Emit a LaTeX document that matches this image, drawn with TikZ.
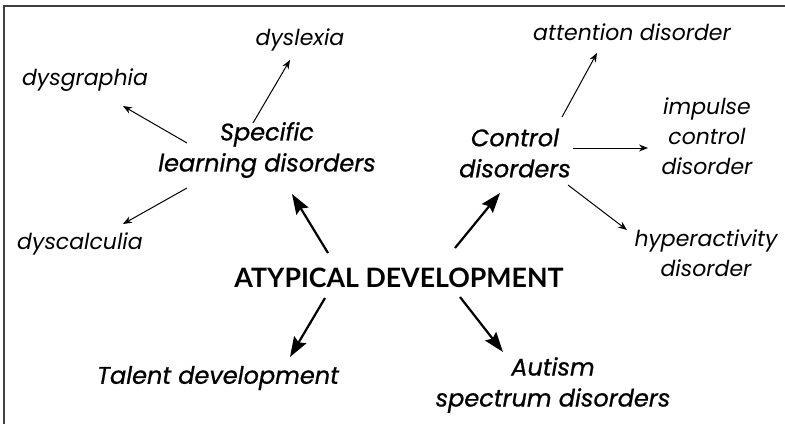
\documentclass[tikz,border=0pt]{standalone}
\usepackage{fontspec}
\usetikzlibrary{arrows.meta}
\newfontfamily\hand{Poppins}
\newfontfamily\handb{Poppins}[FakeBold=0.8]
\newfontfamily\lato{Lato}
\tikzset{
  leaf/.style={font=\hand\itshape\fontsize{22}{30}\selectfont, align=center, inner sep=0pt},
  hub/.style={font=\handb\itshape\fontsize{24}{31}\selectfont, align=center, inner sep=0pt},
  core/.style={font=\lato\bfseries\fontsize{26.7}{30}\selectfont, inner sep=0pt},
  thin/.style={-{Stealth[length=9pt,width=7pt]}, line width=1pt, black},
  thick/.style={-{Stealth[length=20pt,width=14pt,inset=3pt]}, line width=2.2pt, black},
  frame/.style={line width=1.5pt, black!75}
}
\begin{document}
\begin{tikzpicture}[x=1pt,y=-1pt]
\useasboundingbox (0,0) rectangle (785,424);
\draw[frame] (4,424) -- (4,6) -- (785,6);
\node[core] (ad) at (399,278) {ATYPICAL DEVELOPMENT};
\node[hub] (sld) at (267,150) {Specific\\learning disorders};
\node[hub] (cd) at (515,153) {Control\\disorders};
\node[hub] (tal) at (218,378) {Talent development};
\node[hub] (aut) at (553,385) {Autism\\spectrum disorders};
\node[leaf] (dys) at (300,40) {dyslexia};
\node[leaf] (dgr) at (85,80) {dysgraphia};
\node[leaf] (dcal) at (80,244) {dyscalculia};
\node[leaf] (att) at (632,32) {attention disorder};
\node[leaf] (imp) at (707,136) {impulse\\control\\disorder};
\node[leaf] (hyp) at (706,253) {hyperactivity\\disorder};
% thin arrows
\draw[thin] ([shift={(-14,-27)}]sld.center) -- ([shift={(-10,20)}]dys.center);
\draw[thin] ([shift={(-80,-7)}]sld.center) -- ([shift={(38,26)}]dgr.center);
\draw[thin] ([shift={(-80,38)}]sld.center) -- ([shift={(43,-20)}]dcal.center);
\draw[thin] ([shift={(47,-36)}]cd.center) -- ([shift={(-35,21)}]att.center);
\draw[thin] ([shift={(58,-5)}]cd.center) -- ([shift={(-59,12)}]imp.center);
\draw[thin] ([shift={(53,32)}]cd.center) -- ([shift={(-79,-23)}]hyp.center);
% thick arrows
\draw[thick] ([shift={(-71,-25)}]ad.center) -- ([shift={(25,44)}]sld.center);
\draw[thick] ([shift={(56,-30)}]ad.center) -- ([shift={(-15,40)}]cd.center);
\draw[thick] ([shift={(-74,20)}]ad.center) -- ([shift={(72,-21)}]tal.center);
\draw[thick] ([shift={(61,19)}]ad.center) -- ([shift={(-50,-33)}]aut.center);
\end{tikzpicture}
\end{document}
